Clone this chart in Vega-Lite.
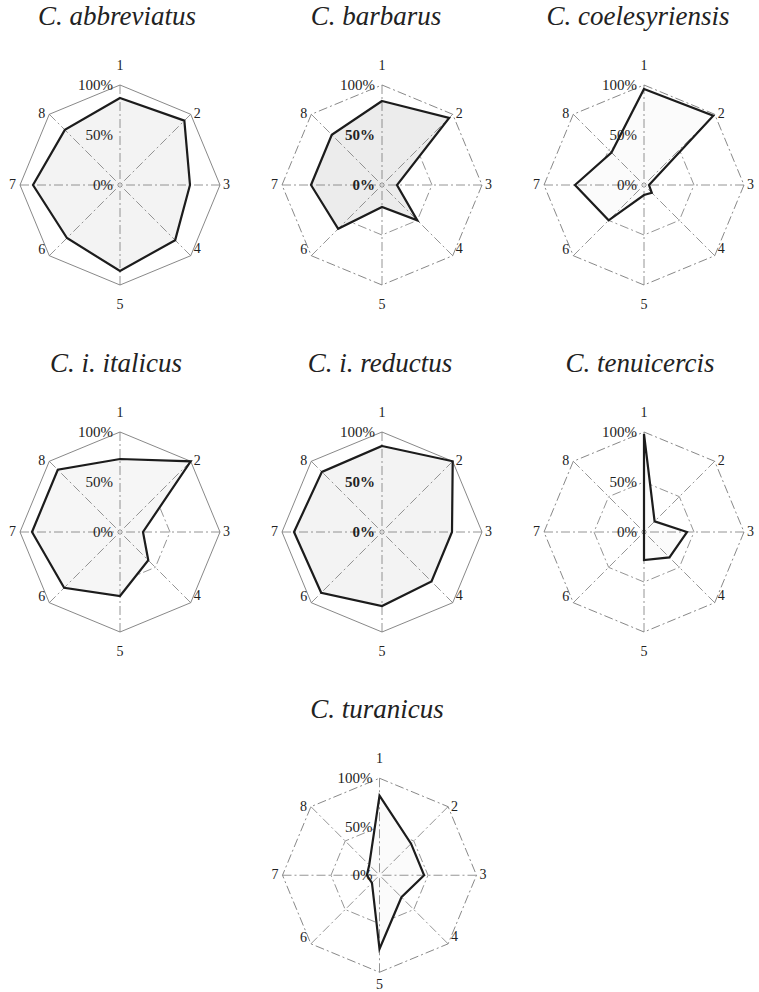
{
"$schema": "https://vega.github.io/schema/vega-lite/v6.json",
"padding": {"left": 0, "right": 0, "top": 2, "bottom": 0},
"background": "white",
"datasets": {
"radar": [
{"species":"C. abbreviatus","axis":1,"value":0.87},{"species":"C. abbreviatus","axis":2,"value":0.91},{"species":"C. abbreviatus","axis":3,"value":0.70},{"species":"C. abbreviatus","axis":4,"value":0.78},{"species":"C. abbreviatus","axis":5,"value":0.86},{"species":"C. abbreviatus","axis":6,"value":0.75},{"species":"C. abbreviatus","axis":7,"value":0.87},{"species":"C. abbreviatus","axis":8,"value":0.78},
{"species":"C. barbarus","axis":1,"value":0.84},{"species":"C. barbarus","axis":2,"value":0.95},{"species":"C. barbarus","axis":3,"value":0.15},{"species":"C. barbarus","axis":4,"value":0.50},{"species":"C. barbarus","axis":5,"value":0.22},{"species":"C. barbarus","axis":6,"value":0.62},{"species":"C. barbarus","axis":7,"value":0.71},{"species":"C. barbarus","axis":8,"value":0.71},
{"species":"C. coelesyriensis","axis":1,"value":0.96},{"species":"C. coelesyriensis","axis":2,"value":0.98},{"species":"C. coelesyriensis","axis":3,"value":0.05},{"species":"C. coelesyriensis","axis":4,"value":0.11},{"species":"C. coelesyriensis","axis":5,"value":0.10},{"species":"C. coelesyriensis","axis":6,"value":0.50},{"species":"C. coelesyriensis","axis":7,"value":0.69},{"species":"C. coelesyriensis","axis":8,"value":0.46},
{"species":"C. i. italicus","axis":1,"value":0.73},{"species":"C. i. italicus","axis":2,"value":1.00},{"species":"C. i. italicus","axis":3,"value":0.23},{"species":"C. i. italicus","axis":4,"value":0.40},{"species":"C. i. italicus","axis":5,"value":0.64},{"species":"C. i. italicus","axis":6,"value":0.79},{"species":"C. i. italicus","axis":7,"value":0.88},{"species":"C. i. italicus","axis":8,"value":0.88},
{"species":"C. i. reductus","axis":1,"value":0.86},{"species":"C. i. reductus","axis":2,"value":1.00},{"species":"C. i. reductus","axis":3,"value":0.70},{"species":"C. i. reductus","axis":4,"value":0.70},{"species":"C. i. reductus","axis":5,"value":0.74},{"species":"C. i. reductus","axis":6,"value":0.86},{"species":"C. i. reductus","axis":7,"value":0.88},{"species":"C. i. reductus","axis":8,"value":0.85},
{"species":"C. tenuicercis","axis":1,"value":0.98},{"species":"C. tenuicercis","axis":2,"value":0.15},{"species":"C. tenuicercis","axis":3,"value":0.43},{"species":"C. tenuicercis","axis":4,"value":0.36},{"species":"C. tenuicercis","axis":5,"value":0.28},{"species":"C. tenuicercis","axis":6,"value":0},{"species":"C. tenuicercis","axis":7,"value":0},{"species":"C. tenuicercis","axis":8,"value":0},
{"species":"C. turanicus","axis":1,"value":0.82},{"species":"C. turanicus","axis":2,"value":0.46},{"species":"C. turanicus","axis":3,"value":0.46},{"species":"C. turanicus","axis":4,"value":0.32},{"species":"C. turanicus","axis":5,"value":0.76},{"species":"C. turanicus","axis":6,"value":0.11},{"species":"C. turanicus","axis":7,"value":0.13},{"species":"C. turanicus","axis":8,"value":0.15}
],
"grid": [
{"axis":1,"ring":0.5},{"axis":2,"ring":0.5},{"axis":3,"ring":0.5},{"axis":4,"ring":0.5},{"axis":5,"ring":0.5},{"axis":6,"ring":0.5},{"axis":7,"ring":0.5},{"axis":8,"ring":0.5},
{"axis":1,"ring":1},{"axis":2,"ring":1},{"axis":3,"ring":1},{"axis":4,"ring":1},{"axis":5,"ring":1},{"axis":6,"ring":1},{"axis":7,"ring":1},{"axis":8,"ring":1}
],
"pct": [{"ring":0,"label":"0%"},{"ring":0.5,"label":"50%"},{"ring":1,"label":"100%"}]
},
"spacing": 37,
"vconcat": [
{"hconcat": [
{"width": 240, "height": 250, "title": {"text": "C. abbreviatus", "dx": -3},
"encoding": {"x": {"field": "x", "type": "quantitative", "scale": {"domain": [-1.2, 1.2], "nice": false, "zero": false}, "axis": null}, "y": {"field": "y", "type": "quantitative", "scale": {"domain": [-1.25, 1.25], "nice": false, "zero": false}, "axis": null}},
"layer": [
{"data": {"name": "grid"}, "transform": [{"filter": "datum.ring == 0.5"}, {"calculate": "datum.ring*sin((datum.axis-1)*PI/4)", "as": "x"}, {"calculate": "datum.ring*cos((datum.axis-1)*PI/4)", "as": "y"}], "mark": {"type": "line", "interpolate": "linear-closed", "stroke": "#7a7a7a", "strokeWidth": 0.8, "strokeDash": [9, 3, 2, 3]}, "encoding": {"order": {"field": "axis", "type": "quantitative"}}},
{"data": {"name": "grid"}, "transform": [{"filter": "datum.ring == 1"}, {"calculate": "datum.ring*sin((datum.axis-1)*PI/4)", "as": "x"}, {"calculate": "datum.ring*cos((datum.axis-1)*PI/4)", "as": "y"}], "mark": {"type": "line", "interpolate": "linear-closed", "stroke": "#6a6a6a", "strokeWidth": 0.8}, "encoding": {"order": {"field": "axis", "type": "quantitative"}}},
{"data": {"name": "radar"}, "transform": [{"filter": "datum.species == 'C. abbreviatus'"}, {"calculate": "datum.value*sin((datum.axis-1)*PI/4)", "as": "x"}, {"calculate": "datum.value*cos((datum.axis-1)*PI/4)", "as": "y"}], "mark": {"type": "line", "interpolate": "linear-closed", "fill": "#f3f3f3", "strokeOpacity": 0}, "encoding": {"order": {"field": "axis", "type": "quantitative"}}},
{"data": {"name": "grid"}, "transform": [{"filter": "datum.ring == 1"}, {"calculate": "datum.ring*sin((datum.axis-1)*PI/4)", "as": "x"}, {"calculate": "datum.ring*cos((datum.axis-1)*PI/4)", "as": "y"}], "mark": {"type": "rule", "stroke": "#7a7a7a", "strokeWidth": 0.8, "strokeDash": [9, 3, 2, 3]}, "encoding": {"x2": {"datum": 0}, "y2": {"datum": 0}}},
{"data": {"name": "radar"}, "transform": [{"filter": "datum.species == 'C. abbreviatus'"}, {"calculate": "datum.value*sin((datum.axis-1)*PI/4)", "as": "x"}, {"calculate": "datum.value*cos((datum.axis-1)*PI/4)", "as": "y"}], "mark": {"type": "line", "interpolate": "linear-closed", "stroke": "#1c1c1c", "strokeWidth": 2.2}, "encoding": {"order": {"field": "axis", "type": "quantitative"}}},
{"data": {"name": "pct"}, "transform": [{"calculate": "0", "as": "x"}, {"calculate": "datum.ring", "as": "y"}], "mark": {"type": "text", "align": "right", "baseline": "middle", "dx": -7, "fontSize": 15}, "encoding": {"text": {"field": "label", "type": "nominal"}}},
{"data": {"name": "grid"}, "transform": [{"filter": "datum.ring == 1 && datum.axis == 1"}, {"calculate": "datum.ring*sin((datum.axis-1)*PI/4)", "as": "x"}, {"calculate": "datum.ring*cos((datum.axis-1)*PI/4)", "as": "y"}], "mark": {"type": "text", "align": "center", "baseline": "alphabetic", "dy": -15}, "encoding": {"text": {"field": "axis", "type": "nominal"}}},
{"data": {"name": "grid"}, "transform": [{"filter": "datum.ring == 1 && datum.axis == 5"}, {"calculate": "datum.ring*sin((datum.axis-1)*PI/4)", "as": "x"}, {"calculate": "datum.ring*cos((datum.axis-1)*PI/4)", "as": "y"}], "mark": {"type": "text", "align": "center", "baseline": "alphabetic", "dy": 24}, "encoding": {"text": {"field": "axis", "type": "nominal"}}},
{"data": {"name": "grid"}, "transform": [{"filter": "datum.ring == 1 && (datum.axis == 2 || datum.axis == 3)"}, {"calculate": "datum.ring*sin((datum.axis-1)*PI/4)", "as": "x"}, {"calculate": "datum.ring*cos((datum.axis-1)*PI/4)", "as": "y"}], "mark": {"type": "text", "align": "left", "baseline": "middle", "dx": 3}, "encoding": {"text": {"field": "axis", "type": "nominal"}}},
{"data": {"name": "grid"}, "transform": [{"filter": "datum.ring == 1 && datum.axis == 4"}, {"calculate": "datum.ring*sin((datum.axis-1)*PI/4)", "as": "x"}, {"calculate": "datum.ring*cos((datum.axis-1)*PI/4)", "as": "y"}], "mark": {"type": "text", "align": "left", "baseline": "middle", "dx": 3, "dy": -7}, "encoding": {"text": {"field": "axis", "type": "nominal"}}},
{"data": {"name": "grid"}, "transform": [{"filter": "datum.ring == 1 && (datum.axis == 7 || datum.axis == 8)"}, {"calculate": "datum.ring*sin((datum.axis-1)*PI/4)", "as": "x"}, {"calculate": "datum.ring*cos((datum.axis-1)*PI/4)", "as": "y"}], "mark": {"type": "text", "align": "right", "baseline": "middle", "dx": -4}, "encoding": {"text": {"field": "axis", "type": "nominal"}}},
{"data": {"name": "grid"}, "transform": [{"filter": "datum.ring == 1 && datum.axis == 6"}, {"calculate": "datum.ring*sin((datum.axis-1)*PI/4)", "as": "x"}, {"calculate": "datum.ring*cos((datum.axis-1)*PI/4)", "as": "y"}], "mark": {"type": "text", "align": "right", "baseline": "middle", "dx": -4, "dy": -6}, "encoding": {"text": {"field": "axis", "type": "nominal"}}}
]},
{"width": 240, "height": 250, "title": {"text": "C. barbarus", "dx": -6},
"encoding": {"x": {"field": "x", "type": "quantitative", "scale": {"domain": [-1.2, 1.2], "nice": false, "zero": false}, "axis": null}, "y": {"field": "y", "type": "quantitative", "scale": {"domain": [-1.25, 1.25], "nice": false, "zero": false}, "axis": null}},
"layer": [
{"data": {"name": "grid"}, "transform": [{"filter": "datum.ring == 0.5"}, {"calculate": "datum.ring*sin((datum.axis-1)*PI/4)", "as": "x"}, {"calculate": "datum.ring*cos((datum.axis-1)*PI/4)", "as": "y"}], "mark": {"type": "line", "interpolate": "linear-closed", "stroke": "#7a7a7a", "strokeWidth": 0.8, "strokeDash": [9, 3, 2, 3]}, "encoding": {"order": {"field": "axis", "type": "quantitative"}}},
{"data": {"name": "grid"}, "transform": [{"filter": "datum.ring == 1"}, {"calculate": "datum.ring*sin((datum.axis-1)*PI/4)", "as": "x"}, {"calculate": "datum.ring*cos((datum.axis-1)*PI/4)", "as": "y"}], "mark": {"type": "line", "interpolate": "linear-closed", "stroke": "#6a6a6a", "strokeWidth": 0.8, "strokeDash": [9, 3, 2, 3]}, "encoding": {"order": {"field": "axis", "type": "quantitative"}}},
{"data": {"name": "radar"}, "transform": [{"filter": "datum.species == 'C. barbarus'"}, {"calculate": "datum.value*sin((datum.axis-1)*PI/4)", "as": "x"}, {"calculate": "datum.value*cos((datum.axis-1)*PI/4)", "as": "y"}], "mark": {"type": "line", "interpolate": "linear-closed", "fill": "#ececec", "strokeOpacity": 0}, "encoding": {"order": {"field": "axis", "type": "quantitative"}}},
{"data": {"name": "grid"}, "transform": [{"filter": "datum.ring == 1"}, {"calculate": "datum.ring*sin((datum.axis-1)*PI/4)", "as": "x"}, {"calculate": "datum.ring*cos((datum.axis-1)*PI/4)", "as": "y"}], "mark": {"type": "rule", "stroke": "#7a7a7a", "strokeWidth": 0.8, "strokeDash": [9, 3, 2, 3]}, "encoding": {"x2": {"datum": 0}, "y2": {"datum": 0}}},
{"data": {"name": "radar"}, "transform": [{"filter": "datum.species == 'C. barbarus'"}, {"calculate": "datum.value*sin((datum.axis-1)*PI/4)", "as": "x"}, {"calculate": "datum.value*cos((datum.axis-1)*PI/4)", "as": "y"}], "mark": {"type": "line", "interpolate": "linear-closed", "stroke": "#1c1c1c", "strokeWidth": 2.2}, "encoding": {"order": {"field": "axis", "type": "quantitative"}}},
{"data": {"name": "pct"}, "transform": [{"filter": "datum.ring == 1"}, {"calculate": "0", "as": "x"}, {"calculate": "datum.ring", "as": "y"}], "mark": {"type": "text", "align": "right", "baseline": "middle", "dx": -7, "fontSize": 15}, "encoding": {"text": {"field": "label", "type": "nominal"}}},
{"data": {"name": "pct"}, "transform": [{"filter": "datum.ring < 1"}, {"calculate": "0", "as": "x"}, {"calculate": "datum.ring", "as": "y"}], "mark": {"type": "text", "align": "right", "baseline": "middle", "dx": -7, "fontSize": 15, "fontWeight": "bold"}, "encoding": {"text": {"field": "label", "type": "nominal"}}},
{"data": {"name": "grid"}, "transform": [{"filter": "datum.ring == 1 && datum.axis == 1"}, {"calculate": "datum.ring*sin((datum.axis-1)*PI/4)", "as": "x"}, {"calculate": "datum.ring*cos((datum.axis-1)*PI/4)", "as": "y"}], "mark": {"type": "text", "align": "center", "baseline": "alphabetic", "dy": -15}, "encoding": {"text": {"field": "axis", "type": "nominal"}}},
{"data": {"name": "grid"}, "transform": [{"filter": "datum.ring == 1 && datum.axis == 5"}, {"calculate": "datum.ring*sin((datum.axis-1)*PI/4)", "as": "x"}, {"calculate": "datum.ring*cos((datum.axis-1)*PI/4)", "as": "y"}], "mark": {"type": "text", "align": "center", "baseline": "alphabetic", "dy": 24}, "encoding": {"text": {"field": "axis", "type": "nominal"}}},
{"data": {"name": "grid"}, "transform": [{"filter": "datum.ring == 1 && (datum.axis == 2 || datum.axis == 3)"}, {"calculate": "datum.ring*sin((datum.axis-1)*PI/4)", "as": "x"}, {"calculate": "datum.ring*cos((datum.axis-1)*PI/4)", "as": "y"}], "mark": {"type": "text", "align": "left", "baseline": "middle", "dx": 3}, "encoding": {"text": {"field": "axis", "type": "nominal"}}},
{"data": {"name": "grid"}, "transform": [{"filter": "datum.ring == 1 && datum.axis == 4"}, {"calculate": "datum.ring*sin((datum.axis-1)*PI/4)", "as": "x"}, {"calculate": "datum.ring*cos((datum.axis-1)*PI/4)", "as": "y"}], "mark": {"type": "text", "align": "left", "baseline": "middle", "dx": 3, "dy": -7}, "encoding": {"text": {"field": "axis", "type": "nominal"}}},
{"data": {"name": "grid"}, "transform": [{"filter": "datum.ring == 1 && (datum.axis == 7 || datum.axis == 8)"}, {"calculate": "datum.ring*sin((datum.axis-1)*PI/4)", "as": "x"}, {"calculate": "datum.ring*cos((datum.axis-1)*PI/4)", "as": "y"}], "mark": {"type": "text", "align": "right", "baseline": "middle", "dx": -4}, "encoding": {"text": {"field": "axis", "type": "nominal"}}},
{"data": {"name": "grid"}, "transform": [{"filter": "datum.ring == 1 && datum.axis == 6"}, {"calculate": "datum.ring*sin((datum.axis-1)*PI/4)", "as": "x"}, {"calculate": "datum.ring*cos((datum.axis-1)*PI/4)", "as": "y"}], "mark": {"type": "text", "align": "right", "baseline": "middle", "dx": -4, "dy": -6}, "encoding": {"text": {"field": "axis", "type": "nominal"}}}
]},
{"width": 235, "height": 250, "title": {"text": "C. coelesyriensis", "dx": -3.5},
"encoding": {"x": {"field": "x", "type": "quantitative", "scale": {"domain": [-1.2, 1.15], "nice": false, "zero": false}, "axis": null}, "y": {"field": "y", "type": "quantitative", "scale": {"domain": [-1.25, 1.25], "nice": false, "zero": false}, "axis": null}},
"layer": [
{"data": {"name": "grid"}, "transform": [{"filter": "datum.ring == 0.5"}, {"calculate": "datum.ring*sin((datum.axis-1)*PI/4)", "as": "x"}, {"calculate": "datum.ring*cos((datum.axis-1)*PI/4)", "as": "y"}], "mark": {"type": "line", "interpolate": "linear-closed", "stroke": "#7a7a7a", "strokeWidth": 0.8, "strokeDash": [9, 3, 2, 3]}, "encoding": {"order": {"field": "axis", "type": "quantitative"}}},
{"data": {"name": "grid"}, "transform": [{"filter": "datum.ring == 1"}, {"calculate": "datum.ring*sin((datum.axis-1)*PI/4)", "as": "x"}, {"calculate": "datum.ring*cos((datum.axis-1)*PI/4)", "as": "y"}], "mark": {"type": "line", "interpolate": "linear-closed", "stroke": "#6a6a6a", "strokeWidth": 0.8, "strokeDash": [9, 3, 2, 3]}, "encoding": {"order": {"field": "axis", "type": "quantitative"}}},
{"data": {"name": "radar"}, "transform": [{"filter": "datum.species == 'C. coelesyriensis'"}, {"calculate": "datum.value*sin((datum.axis-1)*PI/4)", "as": "x"}, {"calculate": "datum.value*cos((datum.axis-1)*PI/4)", "as": "y"}], "mark": {"type": "line", "interpolate": "linear-closed", "fill": "#fbfbfb", "strokeOpacity": 0}, "encoding": {"order": {"field": "axis", "type": "quantitative"}}},
{"data": {"name": "grid"}, "transform": [{"filter": "datum.ring == 1"}, {"calculate": "datum.ring*sin((datum.axis-1)*PI/4)", "as": "x"}, {"calculate": "datum.ring*cos((datum.axis-1)*PI/4)", "as": "y"}], "mark": {"type": "rule", "stroke": "#7a7a7a", "strokeWidth": 0.8, "strokeDash": [9, 3, 2, 3]}, "encoding": {"x2": {"datum": 0}, "y2": {"datum": 0}}},
{"data": {"name": "radar"}, "transform": [{"filter": "datum.species == 'C. coelesyriensis'"}, {"calculate": "datum.value*sin((datum.axis-1)*PI/4)", "as": "x"}, {"calculate": "datum.value*cos((datum.axis-1)*PI/4)", "as": "y"}], "mark": {"type": "line", "interpolate": "linear-closed", "stroke": "#1c1c1c", "strokeWidth": 2.2}, "encoding": {"order": {"field": "axis", "type": "quantitative"}}},
{"data": {"name": "pct"}, "transform": [{"calculate": "0", "as": "x"}, {"calculate": "datum.ring", "as": "y"}], "mark": {"type": "text", "align": "right", "baseline": "middle", "dx": -7, "fontSize": 15}, "encoding": {"text": {"field": "label", "type": "nominal"}}},
{"data": {"name": "grid"}, "transform": [{"filter": "datum.ring == 1 && datum.axis == 1"}, {"calculate": "datum.ring*sin((datum.axis-1)*PI/4)", "as": "x"}, {"calculate": "datum.ring*cos((datum.axis-1)*PI/4)", "as": "y"}], "mark": {"type": "text", "align": "center", "baseline": "alphabetic", "dy": -15}, "encoding": {"text": {"field": "axis", "type": "nominal"}}},
{"data": {"name": "grid"}, "transform": [{"filter": "datum.ring == 1 && datum.axis == 5"}, {"calculate": "datum.ring*sin((datum.axis-1)*PI/4)", "as": "x"}, {"calculate": "datum.ring*cos((datum.axis-1)*PI/4)", "as": "y"}], "mark": {"type": "text", "align": "center", "baseline": "alphabetic", "dy": 24}, "encoding": {"text": {"field": "axis", "type": "nominal"}}},
{"data": {"name": "grid"}, "transform": [{"filter": "datum.ring == 1 && (datum.axis == 2 || datum.axis == 3)"}, {"calculate": "datum.ring*sin((datum.axis-1)*PI/4)", "as": "x"}, {"calculate": "datum.ring*cos((datum.axis-1)*PI/4)", "as": "y"}], "mark": {"type": "text", "align": "left", "baseline": "middle", "dx": 3}, "encoding": {"text": {"field": "axis", "type": "nominal"}}},
{"data": {"name": "grid"}, "transform": [{"filter": "datum.ring == 1 && datum.axis == 4"}, {"calculate": "datum.ring*sin((datum.axis-1)*PI/4)", "as": "x"}, {"calculate": "datum.ring*cos((datum.axis-1)*PI/4)", "as": "y"}], "mark": {"type": "text", "align": "left", "baseline": "middle", "dx": 3, "dy": -7}, "encoding": {"text": {"field": "axis", "type": "nominal"}}},
{"data": {"name": "grid"}, "transform": [{"filter": "datum.ring == 1 && (datum.axis == 7 || datum.axis == 8)"}, {"calculate": "datum.ring*sin((datum.axis-1)*PI/4)", "as": "x"}, {"calculate": "datum.ring*cos((datum.axis-1)*PI/4)", "as": "y"}], "mark": {"type": "text", "align": "right", "baseline": "middle", "dx": -4}, "encoding": {"text": {"field": "axis", "type": "nominal"}}},
{"data": {"name": "grid"}, "transform": [{"filter": "datum.ring == 1 && datum.axis == 6"}, {"calculate": "datum.ring*sin((datum.axis-1)*PI/4)", "as": "x"}, {"calculate": "datum.ring*cos((datum.axis-1)*PI/4)", "as": "y"}], "mark": {"type": "text", "align": "right", "baseline": "middle", "dx": -4, "dy": -6}, "encoding": {"text": {"field": "axis", "type": "nominal"}}}
]}
], "spacing": 22, "bounds": "flush"},
{"hconcat": [
{"width": 240, "height": 250, "title": {"text": "C. i. italicus", "dx": -4},
"encoding": {"x": {"field": "x", "type": "quantitative", "scale": {"domain": [-1.2, 1.2], "nice": false, "zero": false}, "axis": null}, "y": {"field": "y", "type": "quantitative", "scale": {"domain": [-1.25, 1.25], "nice": false, "zero": false}, "axis": null}},
"layer": [
{"data": {"name": "grid"}, "transform": [{"filter": "datum.ring == 0.5"}, {"calculate": "datum.ring*sin((datum.axis-1)*PI/4)", "as": "x"}, {"calculate": "datum.ring*cos((datum.axis-1)*PI/4)", "as": "y"}], "mark": {"type": "line", "interpolate": "linear-closed", "stroke": "#7a7a7a", "strokeWidth": 0.8, "strokeDash": [9, 3, 2, 3]}, "encoding": {"order": {"field": "axis", "type": "quantitative"}}},
{"data": {"name": "grid"}, "transform": [{"filter": "datum.ring == 1"}, {"calculate": "datum.ring*sin((datum.axis-1)*PI/4)", "as": "x"}, {"calculate": "datum.ring*cos((datum.axis-1)*PI/4)", "as": "y"}], "mark": {"type": "line", "interpolate": "linear-closed", "stroke": "#6a6a6a", "strokeWidth": 0.8}, "encoding": {"order": {"field": "axis", "type": "quantitative"}}},
{"data": {"name": "radar"}, "transform": [{"filter": "datum.species == 'C. i. italicus'"}, {"calculate": "datum.value*sin((datum.axis-1)*PI/4)", "as": "x"}, {"calculate": "datum.value*cos((datum.axis-1)*PI/4)", "as": "y"}], "mark": {"type": "line", "interpolate": "linear-closed", "fill": "#f6f6f6", "strokeOpacity": 0}, "encoding": {"order": {"field": "axis", "type": "quantitative"}}},
{"data": {"name": "grid"}, "transform": [{"filter": "datum.ring == 1"}, {"calculate": "datum.ring*sin((datum.axis-1)*PI/4)", "as": "x"}, {"calculate": "datum.ring*cos((datum.axis-1)*PI/4)", "as": "y"}], "mark": {"type": "rule", "stroke": "#7a7a7a", "strokeWidth": 0.8, "strokeDash": [9, 3, 2, 3]}, "encoding": {"x2": {"datum": 0}, "y2": {"datum": 0}}},
{"data": {"name": "radar"}, "transform": [{"filter": "datum.species == 'C. i. italicus'"}, {"calculate": "datum.value*sin((datum.axis-1)*PI/4)", "as": "x"}, {"calculate": "datum.value*cos((datum.axis-1)*PI/4)", "as": "y"}], "mark": {"type": "line", "interpolate": "linear-closed", "stroke": "#1c1c1c", "strokeWidth": 2.2}, "encoding": {"order": {"field": "axis", "type": "quantitative"}}},
{"data": {"name": "pct"}, "transform": [{"calculate": "0", "as": "x"}, {"calculate": "datum.ring", "as": "y"}], "mark": {"type": "text", "align": "right", "baseline": "middle", "dx": -7, "fontSize": 15}, "encoding": {"text": {"field": "label", "type": "nominal"}}},
{"data": {"name": "grid"}, "transform": [{"filter": "datum.ring == 1 && datum.axis == 1"}, {"calculate": "datum.ring*sin((datum.axis-1)*PI/4)", "as": "x"}, {"calculate": "datum.ring*cos((datum.axis-1)*PI/4)", "as": "y"}], "mark": {"type": "text", "align": "center", "baseline": "alphabetic", "dy": -15}, "encoding": {"text": {"field": "axis", "type": "nominal"}}},
{"data": {"name": "grid"}, "transform": [{"filter": "datum.ring == 1 && datum.axis == 5"}, {"calculate": "datum.ring*sin((datum.axis-1)*PI/4)", "as": "x"}, {"calculate": "datum.ring*cos((datum.axis-1)*PI/4)", "as": "y"}], "mark": {"type": "text", "align": "center", "baseline": "alphabetic", "dy": 24}, "encoding": {"text": {"field": "axis", "type": "nominal"}}},
{"data": {"name": "grid"}, "transform": [{"filter": "datum.ring == 1 && (datum.axis == 2 || datum.axis == 3)"}, {"calculate": "datum.ring*sin((datum.axis-1)*PI/4)", "as": "x"}, {"calculate": "datum.ring*cos((datum.axis-1)*PI/4)", "as": "y"}], "mark": {"type": "text", "align": "left", "baseline": "middle", "dx": 3}, "encoding": {"text": {"field": "axis", "type": "nominal"}}},
{"data": {"name": "grid"}, "transform": [{"filter": "datum.ring == 1 && datum.axis == 4"}, {"calculate": "datum.ring*sin((datum.axis-1)*PI/4)", "as": "x"}, {"calculate": "datum.ring*cos((datum.axis-1)*PI/4)", "as": "y"}], "mark": {"type": "text", "align": "left", "baseline": "middle", "dx": 3, "dy": -7}, "encoding": {"text": {"field": "axis", "type": "nominal"}}},
{"data": {"name": "grid"}, "transform": [{"filter": "datum.ring == 1 && (datum.axis == 7 || datum.axis == 8)"}, {"calculate": "datum.ring*sin((datum.axis-1)*PI/4)", "as": "x"}, {"calculate": "datum.ring*cos((datum.axis-1)*PI/4)", "as": "y"}], "mark": {"type": "text", "align": "right", "baseline": "middle", "dx": -4}, "encoding": {"text": {"field": "axis", "type": "nominal"}}},
{"data": {"name": "grid"}, "transform": [{"filter": "datum.ring == 1 && datum.axis == 6"}, {"calculate": "datum.ring*sin((datum.axis-1)*PI/4)", "as": "x"}, {"calculate": "datum.ring*cos((datum.axis-1)*PI/4)", "as": "y"}], "mark": {"type": "text", "align": "right", "baseline": "middle", "dx": -4, "dy": -6}, "encoding": {"text": {"field": "axis", "type": "nominal"}}}
]},
{"width": 240, "height": 250, "title": {"text": "C. i. reductus", "dx": -2},
"encoding": {"x": {"field": "x", "type": "quantitative", "scale": {"domain": [-1.2, 1.2], "nice": false, "zero": false}, "axis": null}, "y": {"field": "y", "type": "quantitative", "scale": {"domain": [-1.25, 1.25], "nice": false, "zero": false}, "axis": null}},
"layer": [
{"data": {"name": "grid"}, "transform": [{"filter": "datum.ring == 0.5"}, {"calculate": "datum.ring*sin((datum.axis-1)*PI/4)", "as": "x"}, {"calculate": "datum.ring*cos((datum.axis-1)*PI/4)", "as": "y"}], "mark": {"type": "line", "interpolate": "linear-closed", "stroke": "#7a7a7a", "strokeWidth": 0.8, "strokeDash": [9, 3, 2, 3]}, "encoding": {"order": {"field": "axis", "type": "quantitative"}}},
{"data": {"name": "grid"}, "transform": [{"filter": "datum.ring == 1"}, {"calculate": "datum.ring*sin((datum.axis-1)*PI/4)", "as": "x"}, {"calculate": "datum.ring*cos((datum.axis-1)*PI/4)", "as": "y"}], "mark": {"type": "line", "interpolate": "linear-closed", "stroke": "#6a6a6a", "strokeWidth": 0.8}, "encoding": {"order": {"field": "axis", "type": "quantitative"}}},
{"data": {"name": "radar"}, "transform": [{"filter": "datum.species == 'C. i. reductus'"}, {"calculate": "datum.value*sin((datum.axis-1)*PI/4)", "as": "x"}, {"calculate": "datum.value*cos((datum.axis-1)*PI/4)", "as": "y"}], "mark": {"type": "line", "interpolate": "linear-closed", "fill": "#f3f3f3", "strokeOpacity": 0}, "encoding": {"order": {"field": "axis", "type": "quantitative"}}},
{"data": {"name": "grid"}, "transform": [{"filter": "datum.ring == 1"}, {"calculate": "datum.ring*sin((datum.axis-1)*PI/4)", "as": "x"}, {"calculate": "datum.ring*cos((datum.axis-1)*PI/4)", "as": "y"}], "mark": {"type": "rule", "stroke": "#7a7a7a", "strokeWidth": 0.8, "strokeDash": [9, 3, 2, 3]}, "encoding": {"x2": {"datum": 0}, "y2": {"datum": 0}}},
{"data": {"name": "radar"}, "transform": [{"filter": "datum.species == 'C. i. reductus'"}, {"calculate": "datum.value*sin((datum.axis-1)*PI/4)", "as": "x"}, {"calculate": "datum.value*cos((datum.axis-1)*PI/4)", "as": "y"}], "mark": {"type": "line", "interpolate": "linear-closed", "stroke": "#1c1c1c", "strokeWidth": 2.2}, "encoding": {"order": {"field": "axis", "type": "quantitative"}}},
{"data": {"name": "pct"}, "transform": [{"filter": "datum.ring == 1"}, {"calculate": "0", "as": "x"}, {"calculate": "datum.ring", "as": "y"}], "mark": {"type": "text", "align": "right", "baseline": "middle", "dx": -7, "fontSize": 15}, "encoding": {"text": {"field": "label", "type": "nominal"}}},
{"data": {"name": "pct"}, "transform": [{"filter": "datum.ring < 1"}, {"calculate": "0", "as": "x"}, {"calculate": "datum.ring", "as": "y"}], "mark": {"type": "text", "align": "right", "baseline": "middle", "dx": -7, "fontSize": 15, "fontWeight": "bold"}, "encoding": {"text": {"field": "label", "type": "nominal"}}},
{"data": {"name": "grid"}, "transform": [{"filter": "datum.ring == 1 && datum.axis == 1"}, {"calculate": "datum.ring*sin((datum.axis-1)*PI/4)", "as": "x"}, {"calculate": "datum.ring*cos((datum.axis-1)*PI/4)", "as": "y"}], "mark": {"type": "text", "align": "center", "baseline": "alphabetic", "dy": -15}, "encoding": {"text": {"field": "axis", "type": "nominal"}}},
{"data": {"name": "grid"}, "transform": [{"filter": "datum.ring == 1 && datum.axis == 5"}, {"calculate": "datum.ring*sin((datum.axis-1)*PI/4)", "as": "x"}, {"calculate": "datum.ring*cos((datum.axis-1)*PI/4)", "as": "y"}], "mark": {"type": "text", "align": "center", "baseline": "alphabetic", "dy": 24}, "encoding": {"text": {"field": "axis", "type": "nominal"}}},
{"data": {"name": "grid"}, "transform": [{"filter": "datum.ring == 1 && (datum.axis == 2 || datum.axis == 3)"}, {"calculate": "datum.ring*sin((datum.axis-1)*PI/4)", "as": "x"}, {"calculate": "datum.ring*cos((datum.axis-1)*PI/4)", "as": "y"}], "mark": {"type": "text", "align": "left", "baseline": "middle", "dx": 3}, "encoding": {"text": {"field": "axis", "type": "nominal"}}},
{"data": {"name": "grid"}, "transform": [{"filter": "datum.ring == 1 && datum.axis == 4"}, {"calculate": "datum.ring*sin((datum.axis-1)*PI/4)", "as": "x"}, {"calculate": "datum.ring*cos((datum.axis-1)*PI/4)", "as": "y"}], "mark": {"type": "text", "align": "left", "baseline": "middle", "dx": 3, "dy": -7}, "encoding": {"text": {"field": "axis", "type": "nominal"}}},
{"data": {"name": "grid"}, "transform": [{"filter": "datum.ring == 1 && (datum.axis == 7 || datum.axis == 8)"}, {"calculate": "datum.ring*sin((datum.axis-1)*PI/4)", "as": "x"}, {"calculate": "datum.ring*cos((datum.axis-1)*PI/4)", "as": "y"}], "mark": {"type": "text", "align": "right", "baseline": "middle", "dx": -4}, "encoding": {"text": {"field": "axis", "type": "nominal"}}},
{"data": {"name": "grid"}, "transform": [{"filter": "datum.ring == 1 && datum.axis == 6"}, {"calculate": "datum.ring*sin((datum.axis-1)*PI/4)", "as": "x"}, {"calculate": "datum.ring*cos((datum.axis-1)*PI/4)", "as": "y"}], "mark": {"type": "text", "align": "right", "baseline": "middle", "dx": -4, "dy": -6}, "encoding": {"text": {"field": "axis", "type": "nominal"}}}
]},
{"width": 235, "height": 250, "title": {"text": "C. tenuicercis", "dx": -1.5},
"encoding": {"x": {"field": "x", "type": "quantitative", "scale": {"domain": [-1.2, 1.15], "nice": false, "zero": false}, "axis": null}, "y": {"field": "y", "type": "quantitative", "scale": {"domain": [-1.25, 1.25], "nice": false, "zero": false}, "axis": null}},
"layer": [
{"data": {"name": "grid"}, "transform": [{"filter": "datum.ring == 0.5"}, {"calculate": "datum.ring*sin((datum.axis-1)*PI/4)", "as": "x"}, {"calculate": "datum.ring*cos((datum.axis-1)*PI/4)", "as": "y"}], "mark": {"type": "line", "interpolate": "linear-closed", "stroke": "#7a7a7a", "strokeWidth": 0.8, "strokeDash": [9, 3, 2, 3]}, "encoding": {"order": {"field": "axis", "type": "quantitative"}}},
{"data": {"name": "grid"}, "transform": [{"filter": "datum.ring == 1"}, {"calculate": "datum.ring*sin((datum.axis-1)*PI/4)", "as": "x"}, {"calculate": "datum.ring*cos((datum.axis-1)*PI/4)", "as": "y"}], "mark": {"type": "line", "interpolate": "linear-closed", "stroke": "#6a6a6a", "strokeWidth": 0.8, "strokeDash": [9, 3, 2, 3]}, "encoding": {"order": {"field": "axis", "type": "quantitative"}}},
{"data": {"name": "radar"}, "transform": [{"filter": "datum.species == 'C. tenuicercis'"}, {"calculate": "datum.value*sin((datum.axis-1)*PI/4)", "as": "x"}, {"calculate": "datum.value*cos((datum.axis-1)*PI/4)", "as": "y"}], "mark": {"type": "line", "interpolate": "linear-closed", "fill": "#fbfbfb", "strokeOpacity": 0}, "encoding": {"order": {"field": "axis", "type": "quantitative"}}},
{"data": {"name": "grid"}, "transform": [{"filter": "datum.ring == 1"}, {"calculate": "datum.ring*sin((datum.axis-1)*PI/4)", "as": "x"}, {"calculate": "datum.ring*cos((datum.axis-1)*PI/4)", "as": "y"}], "mark": {"type": "rule", "stroke": "#7a7a7a", "strokeWidth": 0.8, "strokeDash": [9, 3, 2, 3]}, "encoding": {"x2": {"datum": 0}, "y2": {"datum": 0}}},
{"data": {"name": "radar"}, "transform": [{"filter": "datum.species == 'C. tenuicercis'"}, {"calculate": "datum.value*sin((datum.axis-1)*PI/4)", "as": "x"}, {"calculate": "datum.value*cos((datum.axis-1)*PI/4)", "as": "y"}], "mark": {"type": "line", "interpolate": "linear-closed", "stroke": "#1c1c1c", "strokeWidth": 2.2}, "encoding": {"order": {"field": "axis", "type": "quantitative"}}},
{"data": {"name": "pct"}, "transform": [{"calculate": "0", "as": "x"}, {"calculate": "datum.ring", "as": "y"}], "mark": {"type": "text", "align": "right", "baseline": "middle", "dx": -7, "fontSize": 15}, "encoding": {"text": {"field": "label", "type": "nominal"}}},
{"data": {"name": "grid"}, "transform": [{"filter": "datum.ring == 1 && datum.axis == 1"}, {"calculate": "datum.ring*sin((datum.axis-1)*PI/4)", "as": "x"}, {"calculate": "datum.ring*cos((datum.axis-1)*PI/4)", "as": "y"}], "mark": {"type": "text", "align": "center", "baseline": "alphabetic", "dy": -15}, "encoding": {"text": {"field": "axis", "type": "nominal"}}},
{"data": {"name": "grid"}, "transform": [{"filter": "datum.ring == 1 && datum.axis == 5"}, {"calculate": "datum.ring*sin((datum.axis-1)*PI/4)", "as": "x"}, {"calculate": "datum.ring*cos((datum.axis-1)*PI/4)", "as": "y"}], "mark": {"type": "text", "align": "center", "baseline": "alphabetic", "dy": 24}, "encoding": {"text": {"field": "axis", "type": "nominal"}}},
{"data": {"name": "grid"}, "transform": [{"filter": "datum.ring == 1 && (datum.axis == 2 || datum.axis == 3)"}, {"calculate": "datum.ring*sin((datum.axis-1)*PI/4)", "as": "x"}, {"calculate": "datum.ring*cos((datum.axis-1)*PI/4)", "as": "y"}], "mark": {"type": "text", "align": "left", "baseline": "middle", "dx": 3}, "encoding": {"text": {"field": "axis", "type": "nominal"}}},
{"data": {"name": "grid"}, "transform": [{"filter": "datum.ring == 1 && datum.axis == 4"}, {"calculate": "datum.ring*sin((datum.axis-1)*PI/4)", "as": "x"}, {"calculate": "datum.ring*cos((datum.axis-1)*PI/4)", "as": "y"}], "mark": {"type": "text", "align": "left", "baseline": "middle", "dx": 3, "dy": -7}, "encoding": {"text": {"field": "axis", "type": "nominal"}}},
{"data": {"name": "grid"}, "transform": [{"filter": "datum.ring == 1 && (datum.axis == 7 || datum.axis == 8)"}, {"calculate": "datum.ring*sin((datum.axis-1)*PI/4)", "as": "x"}, {"calculate": "datum.ring*cos((datum.axis-1)*PI/4)", "as": "y"}], "mark": {"type": "text", "align": "right", "baseline": "middle", "dx": -4}, "encoding": {"text": {"field": "axis", "type": "nominal"}}},
{"data": {"name": "grid"}, "transform": [{"filter": "datum.ring == 1 && datum.axis == 6"}, {"calculate": "datum.ring*sin((datum.axis-1)*PI/4)", "as": "x"}, {"calculate": "datum.ring*cos((datum.axis-1)*PI/4)", "as": "y"}], "mark": {"type": "text", "align": "right", "baseline": "middle", "dx": -4, "dy": -6}, "encoding": {"text": {"field": "axis", "type": "nominal"}}}
]}
], "spacing": 22, "bounds": "flush"},
{"width": 759, "height": 236, "title": {"text": "C. turanicus", "dx": -2.5},
"encoding": {"x": {"field": "x", "type": "quantitative", "scale": {"domain": [-3.9124, 3.9124], "nice": false, "zero": false}, "axis": null}, "y": {"field": "y", "type": "quantitative", "scale": {"domain": [-1.183, 1.25], "nice": false, "zero": false}, "axis": null}},
"layer": [
{"data": {"name": "grid"}, "transform": [{"filter": "datum.ring == 0.5"}, {"calculate": "datum.ring*sin((datum.axis-1)*PI/4)", "as": "x"}, {"calculate": "datum.ring*cos((datum.axis-1)*PI/4)", "as": "y"}], "mark": {"type": "line", "interpolate": "linear-closed", "stroke": "#7a7a7a", "strokeWidth": 0.8, "strokeDash": [9, 3, 2, 3]}, "encoding": {"order": {"field": "axis", "type": "quantitative"}}},
{"data": {"name": "grid"}, "transform": [{"filter": "datum.ring == 1"}, {"calculate": "datum.ring*sin((datum.axis-1)*PI/4)", "as": "x"}, {"calculate": "datum.ring*cos((datum.axis-1)*PI/4)", "as": "y"}], "mark": {"type": "line", "interpolate": "linear-closed", "stroke": "#6a6a6a", "strokeWidth": 0.8, "strokeDash": [9, 3, 2, 3]}, "encoding": {"order": {"field": "axis", "type": "quantitative"}}},
{"data": {"name": "radar"}, "transform": [{"filter": "datum.species == 'C. turanicus'"}, {"calculate": "datum.value*sin((datum.axis-1)*PI/4)", "as": "x"}, {"calculate": "datum.value*cos((datum.axis-1)*PI/4)", "as": "y"}], "mark": {"type": "line", "interpolate": "linear-closed", "fill": "#fbfbfb", "strokeOpacity": 0}, "encoding": {"order": {"field": "axis", "type": "quantitative"}}},
{"data": {"name": "grid"}, "transform": [{"filter": "datum.ring == 1"}, {"calculate": "datum.ring*sin((datum.axis-1)*PI/4)", "as": "x"}, {"calculate": "datum.ring*cos((datum.axis-1)*PI/4)", "as": "y"}], "mark": {"type": "rule", "stroke": "#7a7a7a", "strokeWidth": 0.8, "strokeDash": [9, 3, 2, 3]}, "encoding": {"x2": {"datum": 0}, "y2": {"datum": 0}}},
{"data": {"name": "radar"}, "transform": [{"filter": "datum.species == 'C. turanicus'"}, {"calculate": "datum.value*sin((datum.axis-1)*PI/4)", "as": "x"}, {"calculate": "datum.value*cos((datum.axis-1)*PI/4)", "as": "y"}], "mark": {"type": "line", "interpolate": "linear-closed", "stroke": "#1c1c1c", "strokeWidth": 2.2}, "encoding": {"order": {"field": "axis", "type": "quantitative"}}},
{"data": {"name": "pct"}, "transform": [{"calculate": "0", "as": "x"}, {"calculate": "datum.ring", "as": "y"}], "mark": {"type": "text", "align": "right", "baseline": "middle", "dx": -7, "fontSize": 15}, "encoding": {"text": {"field": "label", "type": "nominal"}}},
{"data": {"name": "grid"}, "transform": [{"filter": "datum.ring == 1 && datum.axis == 1"}, {"calculate": "datum.ring*sin((datum.axis-1)*PI/4)", "as": "x"}, {"calculate": "datum.ring*cos((datum.axis-1)*PI/4)", "as": "y"}], "mark": {"type": "text", "align": "center", "baseline": "alphabetic", "dy": -15}, "encoding": {"text": {"field": "axis", "type": "nominal"}}},
{"data": {"name": "grid"}, "transform": [{"filter": "datum.ring == 1 && datum.axis == 5"}, {"calculate": "datum.ring*sin((datum.axis-1)*PI/4)", "as": "x"}, {"calculate": "datum.ring*cos((datum.axis-1)*PI/4)", "as": "y"}], "mark": {"type": "text", "align": "center", "baseline": "alphabetic", "dy": 17}, "encoding": {"text": {"field": "axis", "type": "nominal"}}},
{"data": {"name": "grid"}, "transform": [{"filter": "datum.ring == 1 && (datum.axis == 2 || datum.axis == 3)"}, {"calculate": "datum.ring*sin((datum.axis-1)*PI/4)", "as": "x"}, {"calculate": "datum.ring*cos((datum.axis-1)*PI/4)", "as": "y"}], "mark": {"type": "text", "align": "left", "baseline": "middle", "dx": 3}, "encoding": {"text": {"field": "axis", "type": "nominal"}}},
{"data": {"name": "grid"}, "transform": [{"filter": "datum.ring == 1 && datum.axis == 4"}, {"calculate": "datum.ring*sin((datum.axis-1)*PI/4)", "as": "x"}, {"calculate": "datum.ring*cos((datum.axis-1)*PI/4)", "as": "y"}], "mark": {"type": "text", "align": "left", "baseline": "middle", "dx": 3, "dy": -7}, "encoding": {"text": {"field": "axis", "type": "nominal"}}},
{"data": {"name": "grid"}, "transform": [{"filter": "datum.ring == 1 && (datum.axis == 7 || datum.axis == 8)"}, {"calculate": "datum.ring*sin((datum.axis-1)*PI/4)", "as": "x"}, {"calculate": "datum.ring*cos((datum.axis-1)*PI/4)", "as": "y"}], "mark": {"type": "text", "align": "right", "baseline": "middle", "dx": -4}, "encoding": {"text": {"field": "axis", "type": "nominal"}}},
{"data": {"name": "grid"}, "transform": [{"filter": "datum.ring == 1 && datum.axis == 6"}, {"calculate": "datum.ring*sin((datum.axis-1)*PI/4)", "as": "x"}, {"calculate": "datum.ring*cos((datum.axis-1)*PI/4)", "as": "y"}], "mark": {"type": "text", "align": "right", "baseline": "middle", "dx": -4, "dy": -6}, "encoding": {"text": {"field": "axis", "type": "nominal"}}}
]}
],
"config": {
"view": {"stroke": null},
"title": {"font": "Liberation Serif", "fontStyle": "italic", "fontWeight": "normal", "fontSize": 27, "color": "#222222", "anchor": "middle", "baseline": "alphabetic", "offset": 28},
"text": {"font": "Liberation Serif", "fontSize": 14, "color": "#222222"}
}
}
